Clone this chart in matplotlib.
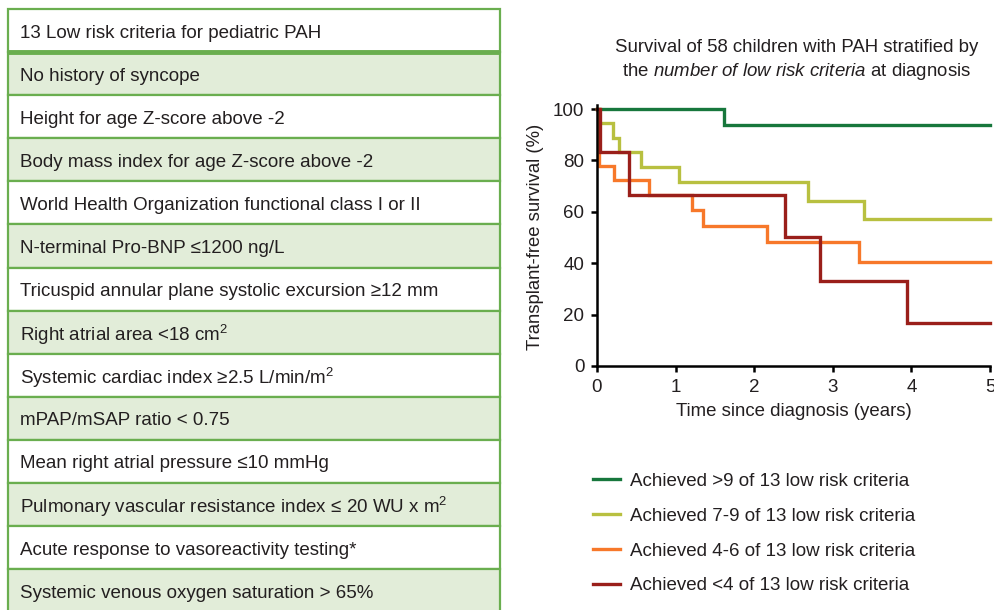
import matplotlib
matplotlib.use('Agg')
import matplotlib.pyplot as plt
from matplotlib.patches import Rectangle

plt.rcParams['font.family'] = ['Liberation Sans', 'DejaVu Sans']
plt.rcParams['mathtext.fontset'] = 'custom'
plt.rcParams['mathtext.rm'] = 'Liberation Sans'
plt.rcParams['mathtext.it'] = 'Liberation Sans:italic'
plt.rcParams['mathtext.default'] = 'regular'

W, H = 994, 610

# tabel: kop + 13 criteria
table_header = '13 Low risk criteria for pediatric PAH'
criteria = [
    'No history of syncope',
    'Height for age Z-score above -2',
    'Body mass index for age Z-score above -2',
    'World Health Organization functional class I or II',
    'N-terminal Pro-BNP \u22641200 ng/L',
    'Tricuspid annular plane systolic excursion \u226512 mm',
    'Right atrial area <18 cm$^2$',
    'Systemic cardiac index \u22652.5 L/min/m$^2$',
    'mPAP/mSAP ratio < 0.75',
    'Mean right atrial pressure \u226410 mmHg',
    'Pulmonary vascular resistance index \u2264 20 WU x m$^2$',
    'Acute response to vasoreactivity testing*',
    'Systemic venous oxygen saturation > 65%',
]

# Kaplan-Meier curves (tijd in jaren, overleving in %)
t_high = [0, 1.62, 5]
s_high = [100, 93.8, 93.8]
t_mid = [0, 0.03, 0.20, 0.28, 0.56, 1.04, 2.68, 3.40, 5]
s_mid = [100, 94.4, 88.9, 83.3, 77.3, 71.5, 64.3, 57.1, 57.1]
t_low = [0, 0.02, 0.22, 0.66, 1.21, 1.35, 2.16, 3.33, 5]
s_low = [100, 77.8, 72.4, 66.5, 60.7, 54.5, 48.4, 40.3, 40.3]
t_vlow = [0, 0.04, 0.41, 2.39, 2.84, 3.95, 5]
s_vlow = [100, 83.4, 66.5, 50.1, 33.2, 16.6, 16.6]

labels = ['Achieved >9 of 13 low risk criteria',
          'Achieved 7-9 of 13 low risk criteria',
          'Achieved 4-6 of 13 low risk criteria',
          'Achieved <4 of 13 low risk criteria']
colors = ['#17773c', '#b8c040', '#f7782a', '#9a1f1a']

x_ticks = [0, 1, 2, 3, 4, 5]
y_ticks = [0, 20, 40, 60, 80, 100]

green_border = '#6aae4f'
green_fill = '#e2edd9'
text_col = '#231f20'

fig = plt.figure(figsize=(W / 100, H / 100), dpi=100)

def fx(x):
    return x / W

def fy(y):
    return 1 - y / H

# ---- tabel links ----
axt = fig.add_axes([0, 0, 1, 1])
axt.set_xlim(0, W)
axt.set_ylim(H, 0)
axt.axis('off')

left, right = 8, 500
top, head_h, row_h = 9, 43, 43.1

axt.add_patch(Rectangle((left, top), right - left, head_h, facecolor='white',
                        edgecolor=green_border, linewidth=1.6))
axt.text(20, top + head_h / 2 + 2.5, table_header, fontsize=13.5, color=text_col,
         ha='left', va='center')
for i, c in enumerate(criteria):
    y0 = top + head_h + i * row_h
    fc = green_fill if i % 2 == 0 else 'white'
    axt.add_patch(Rectangle((left, y0), right - left, row_h, facecolor=fc,
                            edgecolor=green_border, linewidth=1.6))
    axt.text(20, y0 + row_h / 2 + 2.5, c, fontsize=13.5, color=text_col,
             ha='left', va='center')
axt.plot([left, right], [top + head_h, top + head_h], color=green_border,
         linewidth=3.5, solid_capstyle='butt')

# ---- Kaplan-Meier grafiek ----
x0, x1 = 597, 990
ybot = 366
ppu = 2.57
ymax = 101.5
ax = fig.add_axes([fx(x0), fy(ybot), (x1 - x0) / W, ymax * ppu / H])

for t, s, col, lab in zip([t_high, t_mid, t_low, t_vlow],
                          [s_high, s_mid, s_low, s_vlow], colors, labels):
    ax.step(t, s, where='post', color=col, linewidth=2.4, label=lab,
            clip_on=False, solid_joinstyle='miter')

ax.set_xlim(0, 5)
ax.set_ylim(0, ymax)
ax.set_xticks(x_ticks)
ax.set_yticks(y_ticks)
for sp in ['top', 'right']:
    ax.spines[sp].set_visible(False)
for sp in ['left', 'bottom']:
    ax.spines[sp].set_linewidth(1.8)
    ax.spines[sp].set_color('black')
ax.tick_params(direction='out', length=4, width=1.8, labelsize=13.5,
               labelcolor=text_col)
ax.tick_params(axis='x', pad=5.5)
ax.tick_params(axis='y', pad=5)
ax.patch.set_alpha(0)

fig.text(fx(797), fy(48), 'Survival of 58 children with PAH stratified by',
         fontsize=13.4, color=text_col, ha='center', va='center')
fig.text(fx(797), fy(71), r'the $\it{number\ of\ low\ risk\ criteria}$ at diagnosis',
         fontsize=13.4, color=text_col, ha='center', va='center')
fig.text(fx(535), fy(237), 'Transplant-free survival (%)', fontsize=13.3,
         color=text_col, rotation=90, ha='center', va='center')
fig.text(fx(794), fy(412), 'Time since diagnosis (years)', fontsize=13.4,
         color=text_col, ha='center', va='center')

fig.legend(loc='upper left', bbox_to_anchor=(fx(593), fy(472.5)), frameon=False,
           fontsize=13.5, handlelength=1.45, handletextpad=0.53, labelspacing=0.95,
           borderpad=0, borderaxespad=0, labelcolor=text_col)

fig.savefig('out.png', dpi=100, facecolor='white')
